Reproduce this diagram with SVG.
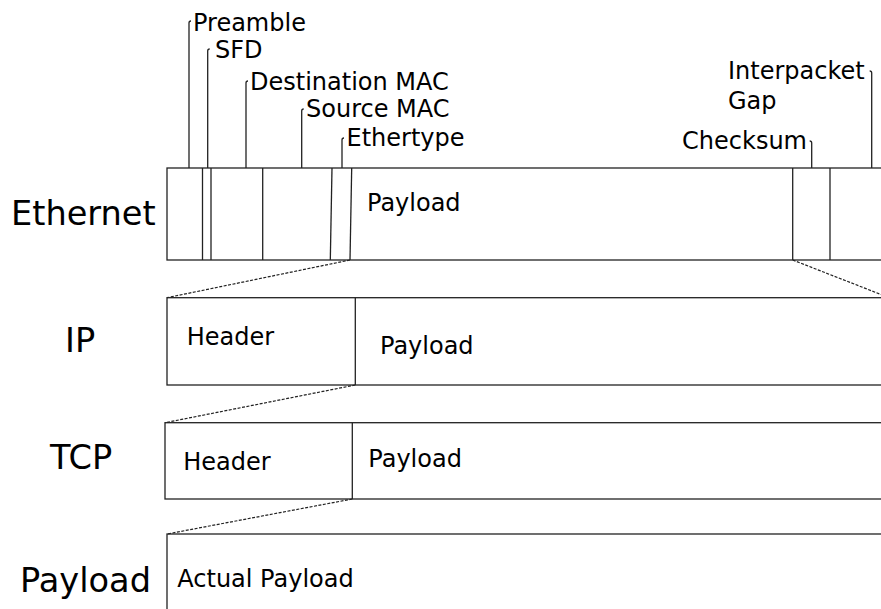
<svg xmlns="http://www.w3.org/2000/svg" width="881" height="609" viewBox="0 0 881 609">
  <style>
    .box { fill: #fff; stroke: #222; stroke-width: 1.3; }
    .ln { stroke: #222; stroke-width: 1.3; fill: none; }
    .dash { stroke: #222; stroke-width: 1.2; stroke-dasharray: 3 1.5; fill: none; }
    .lbl { font-family: "DejaVu Sans", sans-serif; font-size: 33.6px; fill: #000; }
    .txt { font-family: "DejaVu Sans", sans-serif; font-size: 24px; fill: #000; }
  </style>

  <!-- Ethernet frame -->
  <g id="ethernet">
    <text class="lbl" x="11" y="225">Ethernet</text>
    <rect class="box" x="167" y="168" width="730" height="92"/>
    <line class="ln" x1="202.5" y1="168" x2="202.5" y2="260"/>
    <line class="ln" x1="211" y1="168" x2="211" y2="260"/>
    <line class="ln" x1="262.7" y1="168" x2="262.7" y2="260"/>
    <line class="ln" x1="332" y1="168" x2="330.3" y2="260"/>
    <line class="ln" x1="351.7" y1="168" x2="350" y2="260"/>
    <line class="ln" x1="792.7" y1="168" x2="792.7" y2="260"/>
    <line class="ln" x1="830" y1="168" x2="830" y2="260"/>
    <text class="txt" x="367" y="211">Payload</text>
  </g>

  <!-- Field callouts -->
  <g id="callouts">
    <path class="ln" d="M189 168 V23 q0 -2 2 -2"/>
    <text class="txt" x="193" y="30.5">Preamble</text>
    <path class="ln" d="M207.7 168 V51 q0 -2 2 -2"/>
    <text class="txt" x="215" y="57.5">SFD</text>
    <path class="ln" d="M246 168 V83 q0 -2 2 -2"/>
    <text class="txt" x="250" y="89.5">Destination MAC</text>
    <path class="ln" d="M301.7 168 V111 q0 -2 2 -2"/>
    <text class="txt" x="306" y="116.5">Source MAC</text>
    <path class="ln" d="M342 168 V140 q0 -2 2 -2"/>
    <text class="txt" x="346.5" y="146">Ethertype</text>
    <path class="ln" d="M811.7 168 V143 q0 -2 -2 -2"/>
    <text class="txt" x="807" y="148.5" text-anchor="end">Checksum</text>
    <path class="ln" d="M871.7 168 V73 q0 -2 -2 -2"/>
    <text class="txt" x="728" y="79">Interpacket</text>
    <text class="txt" x="728" y="109">Gap</text>
  </g>

  <!-- IP packet -->
  <g id="ip">
    <text class="lbl" x="65" y="352">IP</text>
    <rect class="box" x="167" y="297.7" width="730" height="87.3"/>
    <line class="ln" x1="355.3" y1="297.7" x2="355.3" y2="385"/>
    <text class="txt" x="186.7" y="344.5">Header</text>
    <text class="txt" x="380" y="354">Payload</text>
  </g>

  <!-- TCP segment -->
  <g id="tcp">
    <text class="lbl" x="50" y="468.5">TCP</text>
    <rect class="box" x="165" y="422.7" width="730" height="76.3"/>
    <line class="ln" x1="352.3" y1="422.7" x2="352.3" y2="499"/>
    <text class="txt" x="183.3" y="470">Header</text>
    <text class="txt" x="368.3" y="467">Payload</text>
  </g>

  <!-- Application payload -->
  <g id="payload">
    <text class="lbl" x="20" y="592">Payload</text>
    <rect class="box" x="167" y="534" width="730" height="90"/>
    <text class="txt" x="177.3" y="586.7">Actual Payload</text>
  </g>

  <!-- Encapsulation connectors -->
  <g id="connectors">
    <line class="dash" x1="350" y1="260" x2="167" y2="297.7"/>
    <line class="dash" x1="792.7" y1="260" x2="881" y2="294.5"/>
    <line class="dash" x1="355.3" y1="385" x2="165" y2="422.7"/>
    <line class="dash" x1="352.3" y1="499" x2="167" y2="534"/>
  </g>
</svg>
